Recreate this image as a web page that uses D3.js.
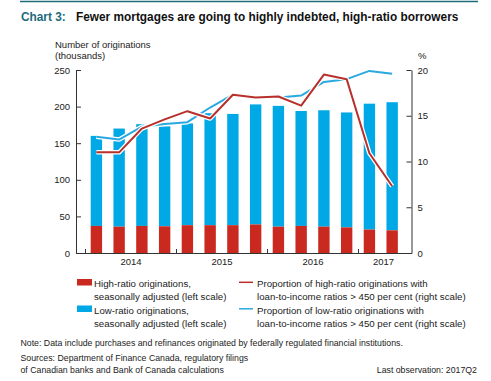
<!DOCTYPE html>
<html><head><meta charset="utf-8">
<script src="https://cdn.jsdelivr.net/npm/d3@7"></script>
<style>
body{margin:0;background:#fff;}
svg text{font-family:"Liberation Sans",Arial,Helvetica,sans-serif;}
</style></head>
<body><svg id="c" width="491" height="381"></svg>
<script>
const quarters = ["2014Q1","2014Q2","2014Q3","2014Q4","2015Q1","2015Q2","2015Q3","2015Q4","2016Q1","2016Q2","2016Q3","2016Q4","2017Q1","2017Q2"];
const highRatio = [37, 36, 37, 36.5, 38, 38, 38, 39, 36, 37, 36, 35, 32, 31];
const lowRatio = [123, 134, 139, 136.5, 139, 153, 152, 164, 165, 157, 159, 157, 172, 175];
const highPct = [11.0, 11.0, 13.6, 14.6, 15.5, 14.7, 17.3, 17.0, 17.1, 16.1, 19.5, 19.0, 10.9, 7.3];
const lowPct = [12.7, 12.4, 13.8, 14.1, 14.3, 15.9, 17.3, 17.0, 17.0, 17.2, 18.7, 19.0, 19.9, 19.6];
const yearLabels = ["2014","2015","2016","2017"];
const yearLabelPos = [2, 6, 10, 13.1];
const yearBounds = [0, 4, 8, 12];
const leftTicks = [0,50,100,150,200,250];
const rightTicks = [0,5,10,15,20];

const svg = d3.select("#c");
const RED = "#c9291f", BLUE = "#00a8e6", REDL = "#b8302b", BLUEL = "#2aa9e0", TEAL = "#1d6b7b";
const FONT = 9.5;

// top rule
svg.append("line").attr("x1",20).attr("x2",478).attr("y1",1.5).attr("y2",1.5).attr("stroke",TEAL).attr("stroke-width",1.5);
// title
const t = svg.append("text").attr("x",21).attr("y",21).attr("font-weight","bold").attr("font-size",11.85);
t.append("tspan").attr("fill",TEAL).text("Chart 3:");
t.append("tspan").attr("x",76).attr("fill","#111").text("Fewer mortgages are going to highly indebted, high-ratio borrowers");

svg.append("text").attr("x",55).attr("y",48).attr("font-size",FONT).attr("fill","#222").text("Number of originations");
svg.append("text").attr("x",55).attr("y",59).attr("font-size",FONT).attr("fill","#222").text("(thousands)");
svg.append("text").attr("x",418).attr("y",59).attr("font-size",FONT).attr("fill","#222").text("%");

const q = d3.scaleLinear().domain([-0.396, 14.35]).range([76, 411.5]);
const x = d3.scaleBand().domain(quarters).range([q(0), q(14)]).paddingInner(0.5).paddingOuter(0.25);
const yL = d3.scaleLinear().domain([0,250]).range([253,70]);
const yR = d3.scaleLinear().domain([0,20]).range([253,70]);

// bars
const g = svg.append("g");
quarters.forEach((k,i)=>{
  g.append("rect").attr("x",x(k)).attr("width",x.bandwidth())
    .attr("y",yL(highRatio[i]+lowRatio[i])).attr("height",yL(highRatio[i])-yL(highRatio[i]+lowRatio[i])).attr("fill",BLUE);
  g.append("rect").attr("x",x(k)).attr("width",x.bandwidth())
    .attr("y",yL(highRatio[i])).attr("height",yL(0)-yL(highRatio[i])).attr("fill",RED);
});

// lines
const line = d3.line().x((d,i)=>x(quarters[i])+x.bandwidth()/2).y(d=>yR(d));
[[lowPct,BLUEL],[highPct,REDL]].forEach(([arr,col])=>{
  svg.append("path").attr("d",line(arr)).attr("fill","none").attr("stroke","#fff").attr("stroke-width",4.5).attr("stroke-linejoin","round");
  svg.append("path").attr("d",line(arr)).attr("fill","none").attr("stroke",col).attr("stroke-width",2).attr("stroke-linejoin","round");
});

function styleAxis(sel){
  sel.selectAll("path,line").attr("stroke","#333").attr("stroke-width",1);
  sel.selectAll("text").attr("font-size",FONT).attr("fill","#222").attr("font-family","Liberation Sans, Arial, sans-serif");
}
// left axis
const la = svg.append("g").attr("transform","translate(76,0)")
  .call(d3.axisLeft(yL).tickValues(leftTicks).tickSize(-5).tickSizeOuter(0).tickPadding(6));
styleAxis(la);
// right axis
const ra = svg.append("g").attr("transform","translate(411.5,0)")
  .call(d3.axisRight(yR).tickValues(rightTicks).tickSize(-5).tickSizeOuter(0).tickPadding(6));
styleAxis(ra);
// bottom axis
const ba = svg.append("g").attr("transform","translate(0,253)")
  .call(d3.axisBottom(q).tickValues(yearBounds).tickSize(-4).tickSizeOuter(0).tickFormat(""));
styleAxis(ba);
const bl = svg.append("g").attr("transform","translate(0,253)")
  .call(d3.axisBottom(q).tickValues(yearLabelPos).tickSize(0).tickPadding(5).tickFormat((d,i)=>yearLabels[i]));
bl.select(".domain").remove();
styleAxis(bl);

// legend
const LF = 9.7;
svg.append("rect").attr("x",77).attr("y",279).attr("width",15).attr("height",6.5).attr("fill",RED);
svg.append("rect").attr("x",77).attr("y",305.5).attr("width",15).attr("height",6.5).attr("fill",BLUE);
svg.append("line").attr("x1",239).attr("x2",253).attr("y1",282.3).attr("y2",282.3).attr("stroke",REDL).attr("stroke-width",1.5);
svg.append("line").attr("x1",239).attr("x2",253).attr("y1",308.8).attr("y2",308.8).attr("stroke",BLUEL).attr("stroke-width",1.5);
const legTxt = [
  [94,287,"High-ratio originations,"],[94,300,"seasonally adjusted (left scale)"],
  [94,313.5,"Low-ratio originations,"],[94,326.5,"seasonally adjusted (left scale)"],
  [257,287,"Proportion of high-ratio originations with"],[257,300,"loan-to-income ratios > 450 per cent (right scale)"],
  [257,313.5,"Proportion of low-ratio originations with"],[257,326.5,"loan-to-income ratios > 450 per cent (right scale)"]
];
legTxt.forEach(([lx,ly,s])=>svg.append("text").attr("x",lx).attr("y",ly).attr("font-size",LF).attr("fill","#222").text(s));

// footer
const FF = 8.75;
svg.append("text").attr("x",20.5).attr("y",346).attr("font-size",FF).attr("fill","#222").text("Note: Data include purchases and refinances originated by federally regulated financial institutions.");
svg.append("text").attr("x",20.5).attr("y",360.5).attr("font-size",FF).attr("fill","#222").text("Sources: Department of Finance Canada, regulatory filings");
svg.append("text").attr("x",20.5).attr("y",373).attr("font-size",FF).attr("fill","#222").text("of Canadian banks and Bank of Canada calculations");
svg.append("text").attr("x",477).attr("y",373).attr("font-size",FF).attr("fill","#222").attr("text-anchor","end").text("Last observation: 2017Q2");
</script></body></html>
